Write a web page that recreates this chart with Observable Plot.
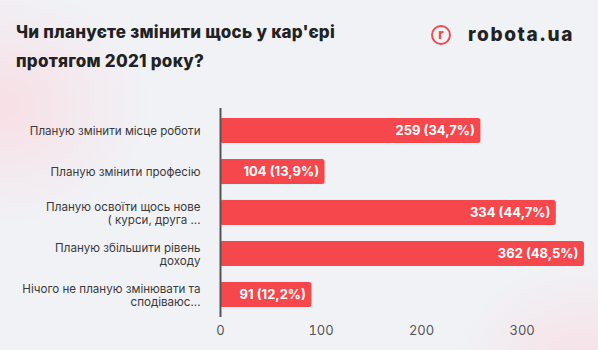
<!DOCTYPE html>
<html><head><meta charset="utf-8">
<script src="https://cdn.jsdelivr.net/npm/d3@7"></script>
<script src="https://cdn.jsdelivr.net/npm/@observablehq/plot@0.6"></script>
<style>
html,body{margin:0;padding:0;}
body{width:598px;height:350px;overflow:hidden;font-family:Inter,"Noto Sans",sans-serif;
background:
 radial-gradient(ellipse 150px 120px at 0px 105px, rgba(248,222,228,0.95), rgba(248,222,228,0) 100%),
 radial-gradient(ellipse 130px 110px at 585px 370px, rgba(248,222,228,0.95), rgba(248,222,228,0) 100%),
 #f0f2f6;}
#head{position:relative;height:90px;}
#title{position:absolute;left:16px;top:18px;font-weight:800;font-size:17px;line-height:29px;color:#222;letter-spacing:0.25px;}
#logo{position:absolute;left:431px;top:23px;display:flex;align-items:center;}
#logo .c{box-sizing:border-box;width:20px;height:20px;border:2.2px solid #ef4b50;border-radius:50%;color:#ef4b50;font-weight:800;font-size:13px;line-height:15px;text-align:center;}
#logo .t{margin-left:17px;font-weight:800;font-size:19px;color:#222;letter-spacing:1.6px;}
#chart svg{display:block;}
</style></head>
<body>
<div id="head">
<div id="title">Чи плануєте змінити щось у кар'єрі<br>протягом 2021 року?</div>
<div id="logo"><div class="c">r</div><div class="t">robota.ua</div></div>
</div>
<div id="chart"></div>
<script>
const categories = [
  "Планую змінити місце роботи",
  "Планую змінити професію",
  "Планую освоїти щось нове\n( курси, друга ...",
  "Планую збільшити рівень\nдоходу",
  "Нічого не планую змінювати та\nсподіваюс..."
];
const values = [259, 104, 334, 362, 91];
const percents = ["34,7%", "13,9%", "44,7%", "48,5%", "12,2%"];
const xTicks = [0, 100, 200, 300];

const data = categories.map((c, i) => ({cat: c, value: values[i], label: `${values[i]} (${percents[i]})`}));

const plot = Plot.plot({
  width: 598,
  height: 260,
  marginLeft: 220,
  marginRight: 6,
  marginTop: 18,
  marginBottom: 33,
  style: {background: "transparent", fontFamily: "Inter, 'Noto Sans', sans-serif"},
  x: {domain: [0, 370], ticks: xTicks, tickSize: 0, tickPadding: 8, label: null},
  y: {domain: categories, paddingInner: 0.4, paddingOuter: 0.21, axis: null, label: null},
  marks: [
    Plot.barX(data, {x: "value", y: "cat", fill: "#f5474c", rx: 2.5}),
    Plot.ruleX([0], {stroke: "#555", strokeWidth: 2}),
    Plot.text(data, {x: 0, y: "cat", text: "cat", textAnchor: "end", dx: -20, fontSize: 11.6, fill: "#3a3a3a", lineHeight: 1.15}),
    Plot.text(data, {x: "value", y: "cat", text: "label", textAnchor: "end", dx: -6, fontSize: 13, fontWeight: 700, fill: "white"})
  ]
});
const xa = plot.querySelector('[aria-label="x-axis tick label"]') || plot.querySelector('g[aria-label="x-axis"]');
if (xa) { xa.setAttribute("font-size", "13"); xa.setAttribute("fill", "#555"); }
document.getElementById("chart").appendChild(plot);
</script>
</body></html>
